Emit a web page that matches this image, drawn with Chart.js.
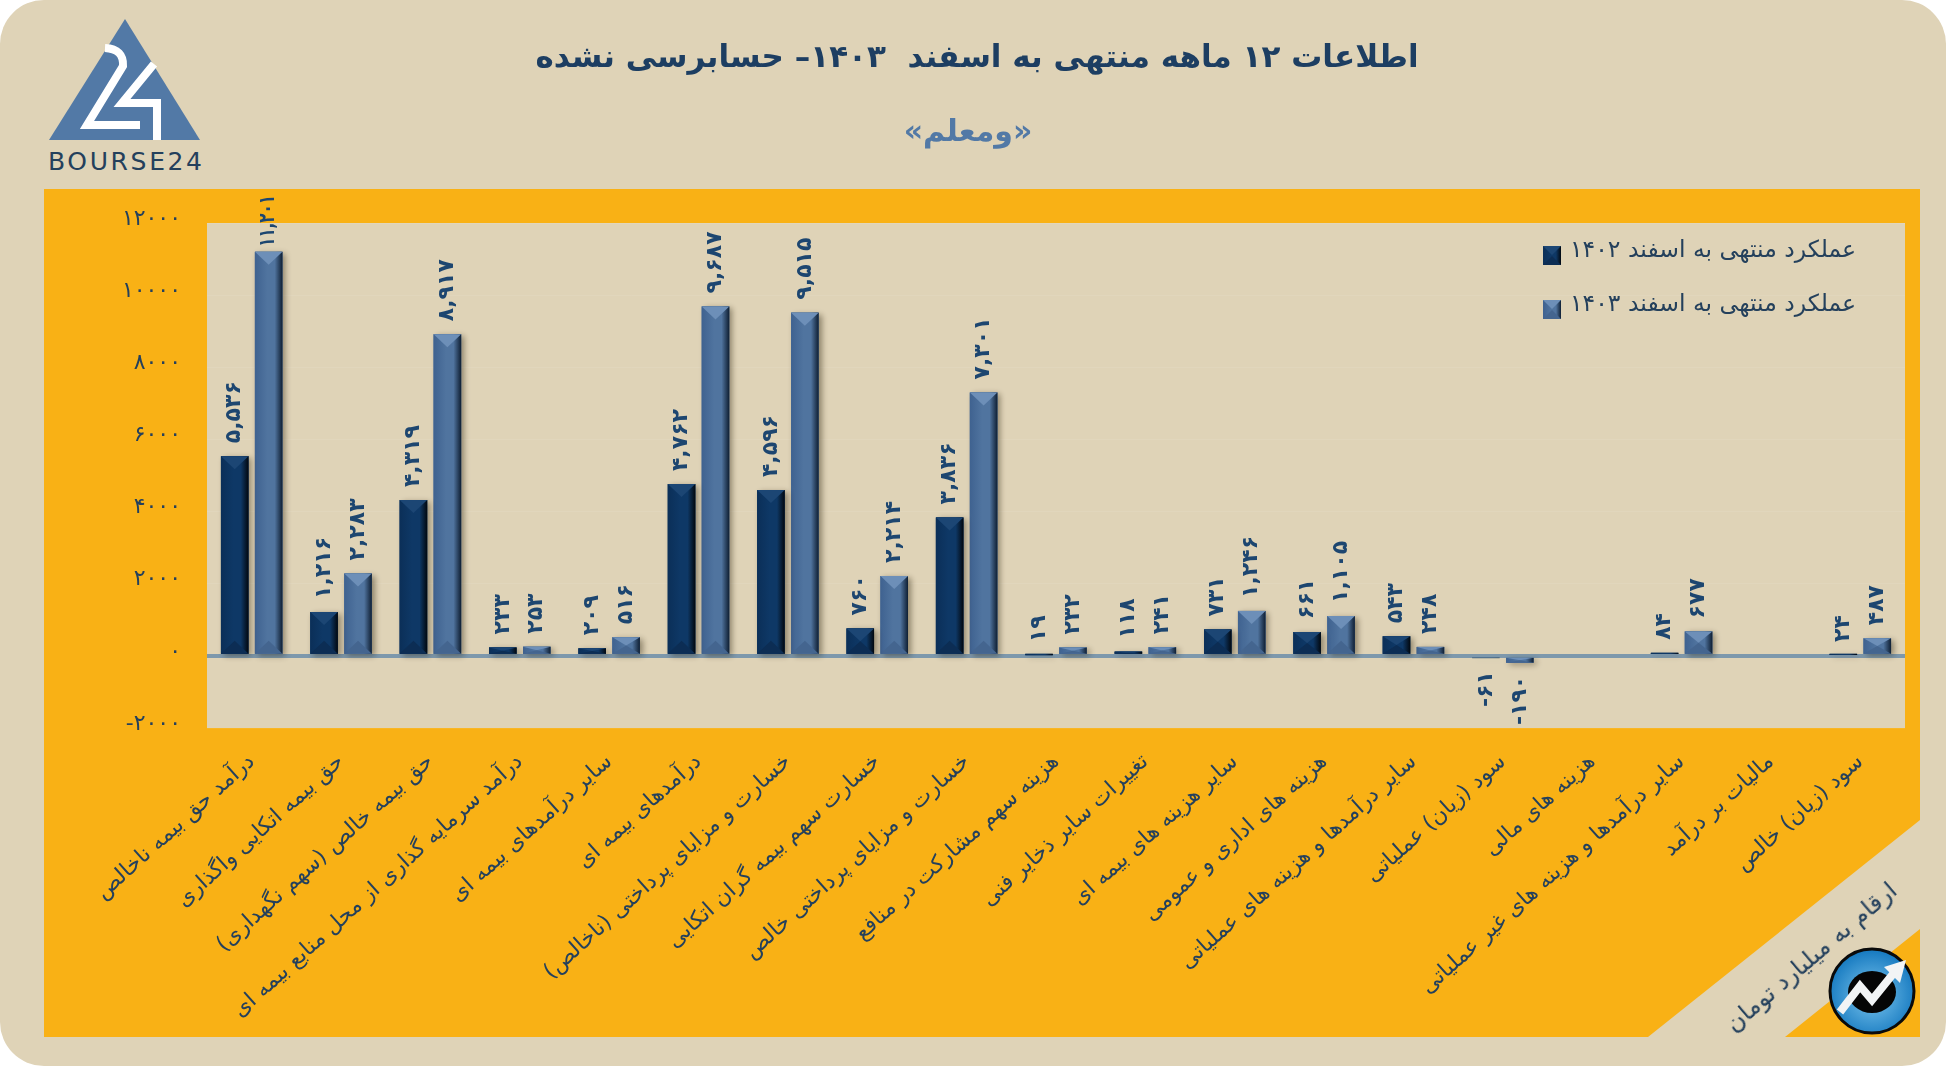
<!DOCTYPE html>
<html lang="fa">
<head>
<meta charset="utf-8">
<title>ومعلم</title>
<script src="https://cdn.jsdelivr.net/npm/chart.js@4/dist/chart.umd.min.js"></script>
<style>
  html, body { margin: 0; padding: 0; background: #fff; }
  #page { position: relative; width: 1946px; height: 1066px; background: #dfd3b7; border-radius: 44px; overflow: hidden;
          font-family: "DejaVu Sans", sans-serif; }
  #deco, #chart { position: absolute; left: 0; top: 0; }
  .txt { position: absolute; direction: rtl; white-space: pre; transform: translate(-50%, -50%); }
  #title { left: 977px; top: 56px; font-size: 31px; font-weight: bold; color: #1d3e62; }
  #subtitle { left: 968px; top: 130px; font-size: 30px; font-weight: bold; color: #5279a6; }
  #note { left: 1811px; top: 957px; font-size: 24px; color: #24405c; transform: translate(-50%, -50%) rotate(-40.4deg); }
</style>
</head>
<body>
<div id="page">
  <svg id="deco" width="1946" height="1066">
    <polygon points="44,189 1920,189 1920,820 1648,1037 44,1037" fill="#f9b115"/>
    <polygon points="1785,1037 1920,929 1920,1037" fill="#f9b115"/>
    <polygon points="125,19 49,140 200,140" fill="#5279a6"/>
    <path d="M105,48 Q124,49 123,66 L87,125 L140,125" fill="none" stroke="#fff" stroke-width="8"/>
    <path d="M154,64 L122,103 L157,103 L157,140" fill="none" stroke="#fff" stroke-width="8"/>
    <text x="48" y="170" font-size="25" font-family="DejaVu Sans" fill="#24405c" textLength="154">BOURSE24</text>
    <defs>
      <radialGradient id="ball" cx="50%" cy="55%" r="55%">
        <stop offset="0" stop-color="#7cc6ee"/><stop offset="1" stop-color="#1478bf"/>
      </radialGradient>
    </defs>
    <circle cx="1872" cy="991" r="42" fill="url(#ball)" stroke="#0a0a0a" stroke-width="3"/>
    <ellipse cx="1872" cy="992" rx="24" ry="21" fill="#050505"/>
    <path d="M1840,1012 L1860,986 L1872,1000 L1893,974" fill="none" stroke="#f2f4f5" stroke-width="8"/>
    <polygon points="1906,960 1884,967 1900,983" fill="#f2f4f5"/>
  </svg>
  <canvas id="chart" width="1946" height="1066"></canvas>
  <div id="title" class="txt">اطلاعات ۱۲ ماهه منتهی به اسفند  ۱۴۰۳– حسابرسی نشده</div>
  <div id="subtitle" class="txt">«ومعلم»</div>
  <div id="note" class="txt">ارقام به میلیارد تومان</div>
</div>
<script>
const categories = [
  'درآمد حق بیمه ناخالص',
  'حق بیمه اتکایی واگذاری',
  'حق بیمه خالص (سهم نگهداری)',
  'درآمد سرمایه گذاری از محل منابع بیمه ای',
  'سایر درآمدهای بیمه ای',
  'درآمدهای بیمه ای',
  'خسارت و مزایای پرداختی (ناخالص)',
  'خسارت سهم بیمه گران اتکایی',
  'خسارت و مزایای پرداختی خالص',
  'هزینه سهم مشارکت در منافع',
  'تغییرات سایر ذخایر فنی',
  'سایر هزینه های بیمه ای',
  'هزینه های اداری و عمومی',
  'سایر درآمدها و هزینه های عملیاتی',
  'سود (زیان) عملیاتی',
  'هزینه های مالی',
  'سایر درآمدها و هزینه های غیر عملیاتی',
  'مالیات بر درآمد',
  'سود (زیان) خالص'
];
const values1402 = [5536, 1216, 4319, 233, 209, 4762, 4596, 760, 3836, 19, 118, 731, 661, 543, -61, null, 84, null, 24];
const values1403 = [11201, 2283, 8917, 253, 516, 9687, 9515, 2214, 7301, 232, 241, 1246, 1105, 248, -190, null, 677, null, 487];
const label1402 = 'عملکرد منتهی به اسفند ۱۴۰۲';
const label1403 = 'عملکرد منتهی به اسفند ۱۴۰۳';
const yMin = -2000, yMax = 12000, yStep = 2000;

const fontName = '"DejaVu Sans"';
const inkColor = '#24405c';
const barFaces = [
  { left: '#0b2f58', mid: '#0e3866', right: '#02080f', top: '#1c4674', bottom: '#0c2d54' },
  { left: '#3f6290', mid: '#50749f', right: '#0f1f33', top: '#6d8fb8', bottom: '#44658f' }
];

const toFa = (v) => String(v).replace(/\d/g, (d) => '۰۱۲۳۴۵۶۷۸۹'[d]);
const fmtValue = (v) => toFa(Math.abs(v).toLocaleString('en-US'));

// draws one bevelled block, same look for bars and legend swatches
function drawBlock(ctx, x0, y0, x1, y1, face) {
  const w = x1 - x0, h = y1 - y0;
  const grad = ctx.createLinearGradient(x0, 0, x1, 0);
  grad.addColorStop(0, face.left);
  grad.addColorStop(0.45, face.mid);
  grad.addColorStop(0.72, face.mid);
  grad.addColorStop(1, face.right);
  ctx.fillStyle = grad;
  ctx.fillRect(x0, y0, w, h);
  if (h < 2) return;
  const d = Math.min(w * 0.5, h * 0.5, 13);
  const cx = (x0 + x1) / 2;
  ctx.fillStyle = face.top;
  ctx.beginPath();
  ctx.moveTo(x0, y0); ctx.lineTo(x1, y0); ctx.lineTo(cx, y0 + d); ctx.closePath();
  ctx.fill();
  ctx.fillStyle = face.bottom;
  ctx.beginPath();
  ctx.moveTo(x0, y1); ctx.lineTo(x1, y1); ctx.lineTo(cx, y1 - d); ctx.closePath();
  ctx.fill();
}

const plotBackground = {
  id: 'plotBackground',
  beforeDraw(chart) {
    const { ctx, chartArea: a } = chart;
    ctx.fillStyle = '#dfd3b7';
    ctx.fillRect(a.left, a.top, a.right - a.left, a.bottom - a.top);
  }
};

const bevelBars = {
  id: 'bevelBars',
  afterDatasetDraw(chart, args) {
    const { ctx } = chart;
    const face = barFaces[args.index];
    chart.getDatasetMeta(args.index).data.forEach((bar) => {
      if (bar.skip) return;
      const { x, y, base, width } = bar.getProps(['x', 'y', 'base', 'width'], true);
      const top = Math.min(y, base), bottom = Math.max(y, base);
      ctx.save();
      ctx.shadowColor = 'rgba(40,30,10,0.45)';
      ctx.shadowBlur = 6;
      ctx.shadowOffsetX = 3;
      ctx.shadowOffsetY = 2;
      ctx.fillStyle = face.mid;
      ctx.fillRect(x - width / 2, top, width, bottom - top);
      ctx.restore();
      drawBlock(ctx, x - width / 2, top, x + width / 2, bottom, face);
    });
  }
};

const labelCeiling = 195; // tallest label is squeezed under the panel's top edge
const valueLabels = {
  id: 'valueLabels',
  afterDatasetsDraw(chart) {
    const { ctx } = chart;
    chart.data.datasets.forEach((ds, i) => {
      chart.getDatasetMeta(i).data.forEach((bar, j) => {
        const v = ds.data[j];
        if (v === null) return;
        const { x, y } = bar.getProps(['x', 'y'], true);
        const text = (v < 0 ? '-' : '') + fmtValue(v);
        ctx.save();
        ctx.font = 'bold 22px ' + fontName;
        ctx.direction = 'ltr';
        const len = ctx.measureText(text).width;
        let gap = 13, room = len;
        if (v > 0 && y - gap - len < labelCeiling) {
          gap = 5;
          room = y - gap - labelCeiling;
        }
        ctx.translate(x, v < 0 ? y + 13 : y - gap);
        ctx.rotate(-Math.PI / 2);
        ctx.fillStyle = '#1d4670';
        ctx.textBaseline = 'middle';
        ctx.textAlign = v < 0 ? 'right' : 'left';
        ctx.fillText(text, 0, 0, room);
        ctx.restore();
      });
    });
  }
};

const sideLegend = {
  id: 'sideLegend',
  afterDraw(chart) {
    const { ctx } = chart;
    const rows = [[246, 251], [300, 305]];
    chart.data.datasets.forEach((ds, i) => {
      const [boxY, textY] = rows[i];
      drawBlock(ctx, 1543, boxY, 1561, boxY + 19, barFaces[i]);
      ctx.save();
      ctx.font = '23.5px ' + fontName;
      ctx.fillStyle = inkColor;
      ctx.textAlign = 'left';
      ctx.textBaseline = 'middle';
      ctx.fillText(ds.label, 1570, textY);
      ctx.restore();
    });
  }
};

new Chart(document.getElementById('chart'), {
  type: 'bar',
  data: {
    labels: categories,
    datasets: [
      { label: label1402, data: values1402, backgroundColor: barFaces[0].mid },
      { label: label1403, data: values1403, backgroundColor: barFaces[1].mid }
    ]
  },
  options: {
    responsive: false,
    animation: false,
    layout: { padding: { top: 223, right: 41, left: 0, bottom: 0 } },
    categoryPercentage: 0.76,
    barPercentage: 0.81,
    plugins: { legend: { display: false }, tooltip: { enabled: false } },
    scales: {
      x: {
        afterFit(scale) { scale.height = 338; },
        grid: { display: false },
        border: { display: false },
        ticks: {
          autoSkip: false,
          minRotation: 42,
          maxRotation: 42,
          padding: 13,
          color: inkColor,
          font: { family: fontName, size: 21.8 },
          callback(value, i) { return '\u200f' + categories[i] + '\u200f'; }
        }
      },
      y: {
        min: yMin,
        max: yMax,
        afterFit(scale) { scale.width = 207; },
        afterBuildTicks(scale) {
          const ticks = [];
          for (let v = yMin; v <= yMax; v += yStep) ticks.push({ value: v });
          scale.ticks = ticks;
        },
        border: { display: false },
        grid: {
          drawTicks: false,
          color: (c) => (c.tick.value === 0 ? '#7d98ac' : 'rgba(255,255,255,0.07)'),
          lineWidth: (c) => (c.tick.value === 0 ? 4 : 1)
        },
        ticks: {
          padding: 26,
          labelOffset: -4,
          color: inkColor,
          font: { family: fontName, size: 22 },
          callback(value) { return (value < 0 ? '-' : '') + toFa(Math.abs(value)); }
        }
      }
    }
  },
  plugins: [plotBackground, bevelBars, valueLabels, sideLegend]
});
</script>
</body>
</html>
